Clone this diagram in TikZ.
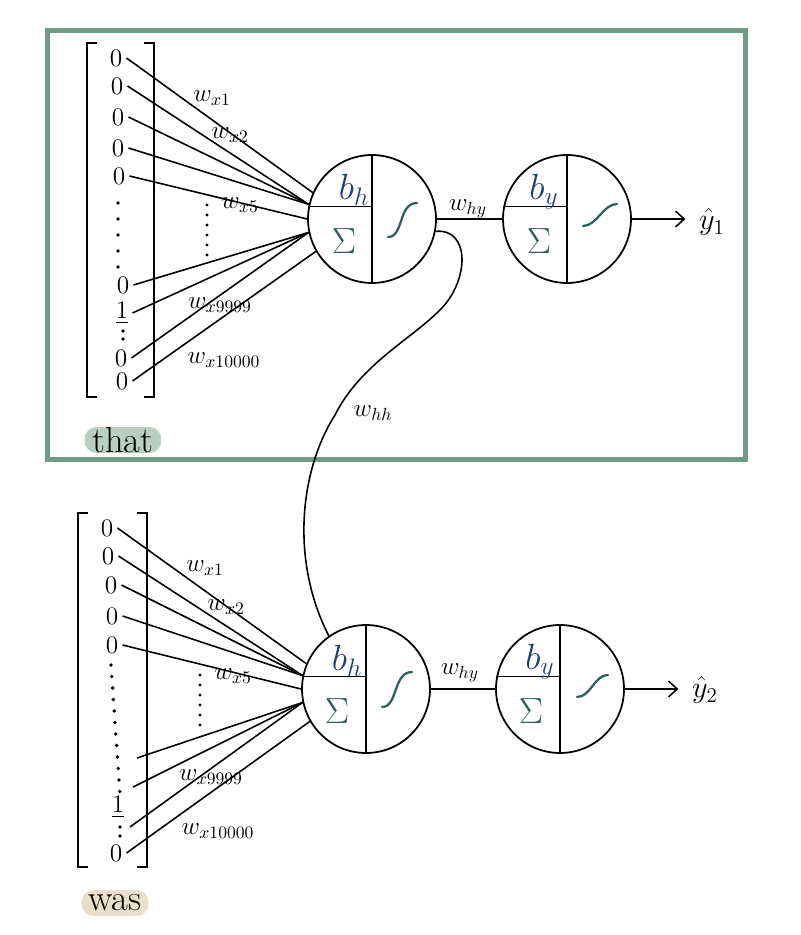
\documentclass[tikz,border=0pt]{standalone}
\usepackage{amsmath,amssymb}
\usepackage{tikz}
\usetikzlibrary{calc,arrows.meta}

\begin{document}
\begin{tikzpicture}[x=0.02cm, y=-0.02cm, line width=0.9pt,
    every node/.style={font=\large},
    neuron/.style={circle, draw, line width=1pt, minimum size=2.56cm, inner sep=0pt},
    entry/.style={inner xsep=2pt, inner ysep=0.3pt, font=\Large},
    wlabel/.style={inner sep=1pt, font=\Large},
    biaslbl/.style={text=biasblue, font=\huge},
    sumlbl/.style={text=sumteal, font=\huge},
    sigcurve/.style={draw=sumteal, line width=1.3pt, line cap=round},
    outarrow/.style={-{Straight Barb[length=5pt,width=9pt]}},
    wordtag/.style={rounded corners=7pt, inner xsep=4pt, inner ysep=0pt,
      minimum height=0.52cm, font=\huge}]
    \definecolor{framegreen}{HTML}{6F9A85}
    \definecolor{thatfill}{HTML}{B8CFC2}
    \definecolor{wasfill}{HTML}{EADFCB}
    \definecolor{biasblue}{HTML}{1F3F6E}
    \definecolor{sumteal}{HTML}{2F5F5C}

    \useasboundingbox (0,0) rectangle (800,935);

    % =================== time step 1: "that" ===================
    \draw[framegreen, line width=2.85pt] (47.5,30.5) rectangle (745.5,459.5);

    % one-hot vector
    \draw (97,43) -| (87,397) -- (97,397);
    \draw (144,43) -| (154,397) -- (144,397);
    \node[entry] (t1) at (116,58) {0};
    \node[entry] (t2) at (117,86) {0};
    \node[entry] (t3) at (118,117) {0};
    \node[entry] (t4) at (118,148) {0};
    \node[entry] (t5) at (119,176) {0};
    \foreach \y in {203,219,235,251,267}{
      \fill (118,\y) circle (1.1pt);
    }
    \node[entry] (t6) at (123,285) {0};
    \node[entry] (t7) at (122,313) {$\underline{1}$};
    \fill (123,331) circle (1.1pt);
    \fill (123,339) circle (1.1pt);
    \node[entry] (t8) at (121,358) {0};
    \node[entry] (t9) at (122,381) {0};

    % hidden and output units
    \node[neuron] (h1) at (372,219) {};
    \node[neuron] (o1) at (567,219) {};
    \foreach \n in {h1,o1}{
      \draw (\n.north) -- (\n.south);
      \draw (\n.169) -- (\n.169 -| \n.center);
      \node[sumlbl] at ($(\n)+(-28,22)$) {$\Sigma$};
    }
    \node[biaslbl] at ($(h1)+(-18,-29)$) {$b_h$};
    \node[biaslbl] at ($(o1)+(-23,-27)$) {$b_y$};
    \draw[sigcurve] ($(h1)+(16,18)$) .. controls +(16,0) and +(-19,0) .. ($(h1)+(45,-16)$);
    \draw[sigcurve] ($(o1)+(16,7)$) .. controls +(14,0) and +(-14,0) .. ($(o1)+(50,-15)$);

    % input weights
    \foreach \e/\a in {t1/156,t2/167,t3/167,t4/167,t5/180,t6/192,t7/192,t8/192,t9/210}{
      \draw (\e.east) -- (h1.\a);
    }
    \foreach \y in {205,215,...,255}{
      \fill (207,\y) circle (0.9pt);
    }
    \node[wlabel] at (212,98) {$w_{x1}$};
    \node[wlabel] at (230,135) {$w_{x2}$};
    \node[wlabel] at (240,205) {$w_{x5}$};
    \node[wlabel] at (220,305) {$w_{x9999}$};
    \node[wlabel] at (224,360) {$w_{x10000}$};

    \draw (h1.east) -- (o1.west);
    \node[wlabel] at (468,209) {$w_{hy}$};
    \node[font=\LARGE] (yhat1) at (712,222) {$\hat{y}_1$};
    \draw[outarrow] (o1.east) -- ([xshift=-4pt]o1.east -| yhat1.west);

    \node[wordtag, fill=thatfill, minimum width=1.54cm] (thattag) at (123,440) {that};

    % =================== time step 2: "was" ===================
    \draw (88,513) -| (78,867) -- (88,867);
    \draw (137,513) -| (147,867) -- (137,867);
    \node[entry] (b1) at (107,528) {0};
    \node[entry] (b2) at (108,556) {0};
    \node[entry] (b3) at (111,585) {0};
    \node[entry] (b4) at (112,616) {0};
    \node[entry] (b5) at (112,645) {0};
    \foreach \i in {0,...,11}{
      \fill ({111+0.8*\i},{665+11.5*\i}) circle (1.1pt);
    }
    \node[entry] (b6) at (118,807) {$\underline{1}$};
    \fill (120,827) circle (1.1pt);
    \fill (120,836) circle (1.1pt);
    \node[entry] (b7) at (116,853) {0};
    \coordinate (bx1) at (137,758);
    \coordinate (bx2) at (133,787);
    \coordinate (bx3) at (130,827);

    \node[neuron] (h2) at (366,689) {};
    \node[neuron] (o2) at (560,689) {};
    \foreach \n in {h2,o2}{
      \draw (\n.north) -- (\n.south);
      \draw (\n.169) -- (\n.169 -| \n.center);
      \node[sumlbl] at ($(\n)+(-29,22)$) {$\Sigma$};
    }
    \node[biaslbl] at ($(h2)+(-19,-28)$) {$b_h$};
    \node[biaslbl] at ($(o2)+(-20,-27)$) {$b_y$};
    \draw[sigcurve] ($(h2)+(16,18)$) .. controls +(16,0) and +(-19,0) .. ($(h2)+(46,-17)$);
    \draw[sigcurve] ($(o2)+(17,8)$) .. controls +(14,0) and +(-14,0) .. ($(o2)+(48,-14)$);

    \foreach \e/\a in {b1/157,b2/168,b3/168,b4/168,b5/180,bx1/192,bx2/192,bx3/192,b7/210}{
      \draw (\e.east) -- (h2.\a);
    }
    \foreach \y in {675,685,...,725}{
      \fill (200,\y) circle (0.9pt);
    }
    \node[wlabel] at (205,568) {$w_{x1}$};
    \node[wlabel] at (226,607) {$w_{x2}$};
    \node[wlabel] at (233,676) {$w_{x5}$};
    \node[wlabel] at (211,777) {$w_{x9999}$};
    \node[wlabel] at (218,831) {$w_{x10000}$};

    \draw (h2.east) -- (o2.west);
    \node[wlabel] at (460,673) {$w_{hy}$};
    \node[font=\LARGE] (yhat2) at (705,690) {$\hat{y}_2$};
    \draw[outarrow] (o2.east) -- ([xshift=-4pt]o2.east -| yhat2.west);

    \node[wordtag, fill=wasfill, minimum width=1.22cm] (wastag) at (115,903) {was};

    % recurrent weight h1 -> h2
    \draw (h1.-11) .. controls (470,228) and (470,280) .. (440,310)
      .. controls (410,340) and (360,365) .. (335,415)
      .. controls (300,470) and (290,560) .. (h2.125);
    \node[wlabel] at (373,413) {$w_{hh}$};
  \end{tikzpicture}
\end{document}
